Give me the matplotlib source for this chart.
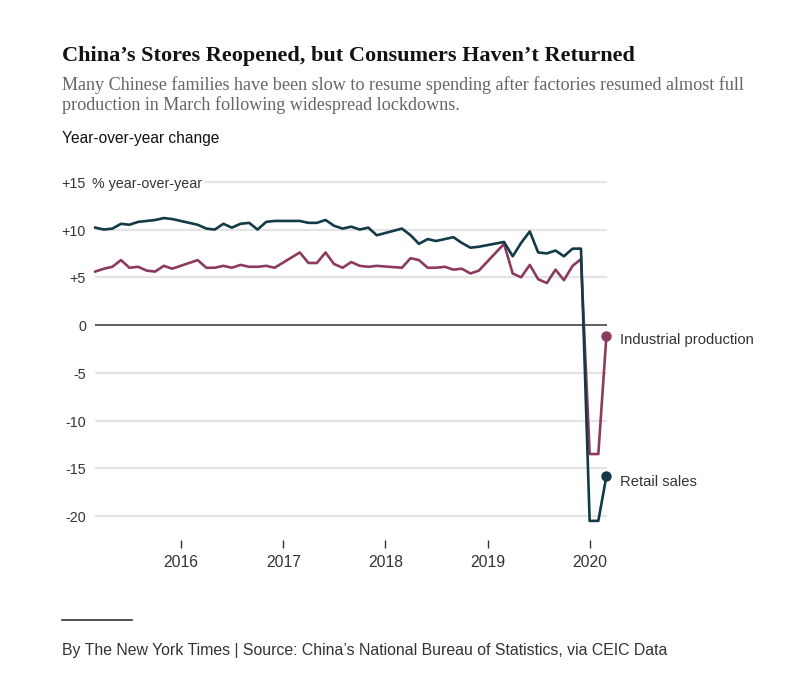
import matplotlib.pyplot as plt
import matplotlib.dates as mdates
import pandas as pd

# monthly data, Jan/Feb are reported together (missing before 2020)
months = [
    '2015-03', '2015-04', '2015-05', '2015-06', '2015-07', '2015-08', '2015-09', '2015-10', '2015-11', '2015-12',
    '2016-03', '2016-04', '2016-05', '2016-06', '2016-07', '2016-08', '2016-09', '2016-10', '2016-11', '2016-12',
    '2017-03', '2017-04', '2017-05', '2017-06', '2017-07', '2017-08', '2017-09', '2017-10', '2017-11', '2017-12',
    '2018-03', '2018-04', '2018-05', '2018-06', '2018-07', '2018-08', '2018-09', '2018-10', '2018-11', '2018-12',
    '2019-03', '2019-04', '2019-05', '2019-06', '2019-07', '2019-08', '2019-09', '2019-10', '2019-11', '2019-12',
    '2020-01', '2020-02', '2020-03',
]
retail_sales = [
    10.2, 10.0, 10.1, 10.6, 10.5, 10.8, 10.9, 11.0, 11.2, 11.1,
    10.5, 10.1, 10.0, 10.6, 10.2, 10.6, 10.7, 10.0, 10.8, 10.9,
    10.9, 10.7, 10.7, 11.0, 10.4, 10.1, 10.3, 10.0, 10.2, 9.4,
    10.1, 9.4, 8.5, 9.0, 8.8, 9.0, 9.2, 8.6, 8.1, 8.2,
    8.7, 7.2, 8.6, 9.8, 7.6, 7.5, 7.8, 7.2, 8.0, 8.0,
    -20.5, -20.5, -15.8,
]
industrial_production = [
    5.6, 5.9, 6.1, 6.8, 6.0, 6.1, 5.7, 5.6, 6.2, 5.9,
    6.8, 6.0, 6.0, 6.2, 6.0, 6.3, 6.1, 6.1, 6.2, 6.0,
    7.6, 6.5, 6.5, 7.6, 6.4, 6.0, 6.6, 6.2, 6.1, 6.2,
    6.0, 7.0, 6.8, 6.0, 6.0, 6.1, 5.8, 5.9, 5.4, 5.7,
    8.5, 5.4, 5.0, 6.3, 4.8, 4.4, 5.8, 4.7, 6.2, 6.9,
    -13.5, -13.5, -1.1,
]
years = ['2016', '2017', '2018', '2019', '2020']
y_values = [15, 10, 5, 0, -5, -10, -15, -20]
y_labels = ['+15', '+10', '+5', '0', '-5', '-10', '-15', '-20']

retail_color = '#123a47'
industrial_color = '#8c3a60'
text_color = '#333333'

W, H = 800, 683
fig = plt.figure(figsize=(W / 100, H / 100), dpi=100)

def px(x, y):
    return x / W, 1 - y / H

ax = fig.add_axes([95 / W, 1 - 540 / H, (607 - 95) / W, (540 - 177) / H])

dates = pd.to_datetime(months)
ax.plot(dates, retail_sales, color=retail_color, lw=1.9, clip_on=False, zorder=4)
ax.plot(dates, industrial_production, color=industrial_color, lw=1.9, clip_on=False, zorder=3)
ax.plot(dates[-1:], retail_sales[-1:], 'o', color=retail_color, ms=6.5, clip_on=False, zorder=5)
ax.plot(dates[-1:], industrial_production[-1:], 'o', color=industrial_color, ms=6.5, clip_on=False, zorder=5)

ax.set_xlim(pd.Timestamp('2015-02-28'), pd.Timestamp('2020-03-03'))
ax.set_ylim(-22.5, 15.5)

# gridlines
for v in y_values:
    if v == 0:
        ax.axhline(v, color='#444444', lw=1.2, zorder=2)
    else:
        ax.axhline(v, color='#e4e4e4', lw=1.6, zorder=1)

ax.set_yticks([])
for v, lab in zip(y_values, y_labels):
    ax.annotate(lab, xy=(0, v), xycoords=('axes fraction', 'data'),
                xytext=(-6.5, -1.5), textcoords='offset points',
                ha='right', va='center', fontsize=10.3, color=text_color,
                family='Liberation Sans')
ax.annotate('% year-over-year', xy=(0, 15), xycoords=('axes fraction', 'data'),
            xytext=(-2.5, -1.5), textcoords='offset points',
            ha='left', va='center', fontsize=10.3, color=text_color,
            family='Liberation Sans',
            bbox=dict(boxstyle='square,pad=0.25', fc='white', ec='none'), zorder=6)

ax.set_xticks(pd.to_datetime([y + '-01-01' for y in years]))
ax.set_xticklabels(years)
ax.tick_params(axis='x', length=5.5, width=1, color=text_color, pad=5.5,
               labelsize=11.3, labelcolor=text_color)
for lab in ax.get_xticklabels():
    lab.set_family('Liberation Sans')
for s in ax.spines.values():
    s.set_visible(False)

# series labels
ax.annotate('Industrial production', xy=(dates[-1], industrial_production[-1]),
            xytext=(10, -3), textcoords='offset points', ha='left', va='center',
            fontsize=10.6, color=text_color, family='Liberation Sans', annotation_clip=False)
ax.annotate('Retail sales', xy=(dates[-1], retail_sales[-1]),
            xytext=(10, -4), textcoords='offset points', ha='left', va='center',
            fontsize=10.6, color=text_color, family='Liberation Sans', annotation_clip=False)

# headings
fig.text(*px(62, 56), "China\u2019s Stores Reopened, but Consumers Haven\u2019t Returned",
         ha='left', va='center', fontsize=16, fontweight='bold', family='Liberation Serif',
         color='#121212')
fig.text(*px(62, 85), 'Many Chinese families have been slow to resume spending after factories resumed almost full',
         ha='left', va='center', fontsize=13.1, family='Liberation Serif', color='#666666')
fig.text(*px(62, 105), 'production in March following widespread lockdowns.',
         ha='left', va='center', fontsize=13.1, family='Liberation Serif', color='#666666')
fig.text(*px(62, 138), 'Year-over-year change', ha='left', va='center', fontsize=11.2,
         family='Liberation Sans', color='#121212')

# footer
fig.add_artist(plt.Line2D([62 / W, 132 / W], [1 - 620 / H, 1 - 620 / H], color=text_color, lw=1.2))
fig.text(*px(62, 650), 'By The New York Times | Source: China\u2019s National Bureau of Statistics, via CEIC Data',
         ha='left', va='center', fontsize=11.4, family='Liberation Sans', color=text_color)

fig.savefig('out.png', dpi=100, facecolor='white')
